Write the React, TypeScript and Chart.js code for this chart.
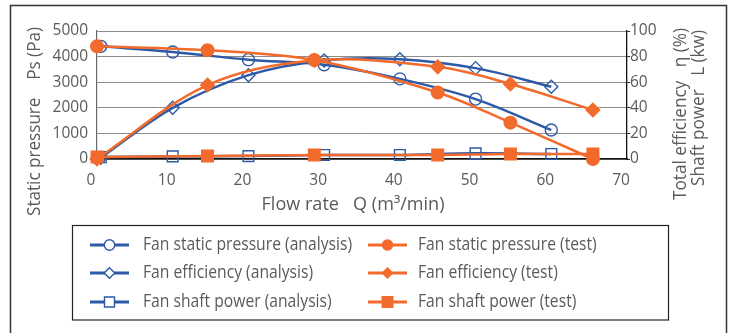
import React, { useEffect, useRef } from 'react';
import { Chart, registerables } from 'chart.js';

Chart.register(...registerables);

const BLUE = '#2c5aa6';
const ORANGE = '#f26a2c';
const TEXT = '#5a5a5a';
const FONT = '"Open Sans", "Noto Sans", sans-serif';

// Data
const analysisFlow = [0.5, 10, 20, 30, 40, 50, 60];
const analysisPressure = [4400, 4180, 3880, 3680, 3130, 2340, 1130];
const analysisEfficiency = [1, 40, 65.5, 77, 78, 71, 56.5];
const analysisPower = [1.5, 2, 2.3, 3.1, 3.1, 4.4, 3.9];

const testFlow = [0, 14.6, 28.7, 45, 54.6, 65.5];
const testPressure = [4400, 4250, 3870, 2600, 1420, 0];
const testEfficiency = [0, 57.8, 77, 72, 58.6, 38.3];
const testPower = [1.5, 2.3, 3.1, 3.1, 3.9, 3.9];

const xTickValues = [0, 10, 20, 30, 40, 50, 60, 70];
const leftTickValues = [0, 1000, 2000, 3000, 4000, 5000];
const rightTickValues = [0, 20, 40, 60, 80, 100];

const seriesLabels = [
  'Fan static pressure (analysis)',
  'Fan efficiency (analysis)',
  'Fan shaft power (analysis)',
  'Fan static pressure (test)',
  'Fan efficiency (test)',
  'Fan shaft power (test)',
];

const xTitle = 'Flow rate   Q (m\u00b3/min)';
const leftTitle = 'Static pressure    Ps (Pa)';
const rightTitle1 = 'Total efficiency   \u03b7 (%)';
const rightTitle2 = 'Shaft power   L (kw)';

function pts(xs: number[], ys: number[]) {
  return xs.map((x, i) => ({ x, y: ys[i] }));
}

function drawMarker(
  ctx: CanvasRenderingContext2D,
  style: string,
  x: number,
  y: number,
  r: number,
  color: string,
  filled: boolean
) {
  ctx.save();
  ctx.beginPath();
  if (style === 'circle') {
    ctx.arc(x, y, r, 0, Math.PI * 2);
  } else if (style === 'rectRot') {
    ctx.moveTo(x - r, y);
    ctx.lineTo(x, y - r);
    ctx.lineTo(x + r, y);
    ctx.lineTo(x, y + r);
    ctx.closePath();
  } else {
    ctx.rect(x - r, y - r, 2 * r, 2 * r);
  }
  if (filled) {
    ctx.fillStyle = color;
    ctx.fill();
  } else {
    ctx.fillStyle = '#ffffff';
    ctx.fill();
    ctx.lineWidth = 1.4;
    ctx.strokeStyle = color;
    ctx.stroke();
  }
  ctx.restore();
}

function fitScale(ctx: CanvasRenderingContext2D, text: string, target: number) {
  const w = ctx.measureText(text).width;
  if (!w) return 1;
  return Math.max(0.75, Math.min(1.15, target / w));
}

const decorPlugin = {
  id: 'decor',
  afterDraw(chart: any) {
    const ctx: CanvasRenderingContext2D = chart.ctx;
    ctx.save();
    // outer frame
    ctx.strokeStyle = '#333333';
    ctx.lineWidth = 1.5;
    ctx.strokeRect(10.5, 5.5, 716, 340);

    // titles
    ctx.fillStyle = TEXT;
    ctx.textBaseline = 'middle';

    ctx.font = `18px ${FONT}`;
    ctx.save();
    ctx.translate(353, 205);
    ctx.scale(fitScale(ctx, xTitle, 183), 1);
    ctx.textAlign = 'center';
    ctx.fillText(xTitle, 0, 0);
    ctx.restore();

    ctx.font = `18px ${FONT}`;
    ctx.save();
    ctx.translate(35, 27);
    ctx.rotate(-Math.PI / 2);
    ctx.scale(fitScale(ctx, leftTitle, 189), 1);
    ctx.textAlign = 'right';
    ctx.fillText(leftTitle, 0, 0);
    ctx.restore();

    ctx.font = `17.5px ${FONT}`;
    const sr = fitScale(ctx, rightTitle1, 172);
    ctx.save();
    ctx.translate(681, 28);
    ctx.rotate(-Math.PI / 2);
    ctx.scale(sr, 1);
    ctx.textAlign = 'right';
    ctx.fillText(rightTitle1, 0, 0);
    ctx.restore();

    ctx.save();
    ctx.translate(699, 30);
    ctx.rotate(-Math.PI / 2);
    ctx.scale(sr, 1);
    ctx.textAlign = 'right';
    ctx.fillText(rightTitle2, 0, 0);
    ctx.restore();

    // legend
    ctx.strokeStyle = '#222222';
    ctx.lineWidth = 1.2;
    ctx.strokeRect(72.5, 225.5, 596, 94.5);
    const styles = ['circle', 'rectRot', 'rect'];
    const rowY = [245, 273, 302];
    const cols = [
      { x0: 90, x1: 129, tx: 143, color: BLUE, filled: false, rs: [5.2, 5.3, 5] },
      { x0: 368, x1: 407, tx: 418, color: ORANGE, filled: true, rs: [5.8, 6, 6] },
    ];
    ctx.font = `17.5px ${FONT}`;
    ctx.textAlign = 'left';
    ctx.textBaseline = 'middle';
    const sx = fitScale(ctx, seriesLabels[0], 209);
    for (let c = 0; c < 2; c++) {
      for (let r = 0; r < 3; r++) {
        const col = cols[c];
        const y = rowY[r];
        ctx.strokeStyle = col.color;
        ctx.lineWidth = 2.8;
        ctx.beginPath();
        ctx.moveTo(col.x0, y);
        ctx.lineTo(col.x1, y);
        ctx.stroke();
        const mx = (col.x0 + col.x1) / 2;
        drawMarker(ctx, styles[r], mx, y, col.rs[r], col.color, col.filled);
        ctx.save();
        ctx.translate(col.tx, y);
        ctx.scale(sx, 1);
        ctx.fillStyle = TEXT;
        ctx.fillText(seriesLabels[c * 3 + r], 0, 0);
        ctx.restore();
      }
    }
    ctx.restore();
  },
};

export default function App() {
  const ref = useRef<HTMLCanvasElement>(null);

  useEffect(() => {
    document.body.style.margin = '0';
    const canvas = ref.current!;
    const common = { tension: 0.35, borderWidth: 2.5, clip: false as any, pointBorderWidth: 1.4 };
    const plain = (v: any) => String(v);
    const chart = new Chart(canvas, {
      type: 'line',
      data: {
        datasets: [
          {
            ...common,
            label: seriesLabels[3],
            data: pts(testFlow, testPressure),
            yAxisID: 'y',
            borderColor: ORANGE,
            backgroundColor: ORANGE,
            pointBackgroundColor: ORANGE,
            pointBorderColor: ORANGE,
            pointStyle: 'circle',
            pointRadius: 6.3,
          },
          {
            ...common,
            label: seriesLabels[4],
            data: pts(testFlow, testEfficiency),
            yAxisID: 'y1',
            borderColor: ORANGE,
            backgroundColor: ORANGE,
            pointBackgroundColor: ORANGE,
            pointBorderColor: ORANGE,
            pointStyle: 'rectRot',
            pointRadius: 6.8,
          },
          {
            ...common,
            label: seriesLabels[5],
            data: pts(testFlow, testPower),
            yAxisID: 'y1',
            borderColor: ORANGE,
            backgroundColor: ORANGE,
            pointBackgroundColor: ORANGE,
            pointBorderColor: ORANGE,
            pointStyle: 'rect',
            pointRadius: 8.2,
          },
          {
            ...common,
            label: seriesLabels[0],
            data: pts(analysisFlow, analysisPressure),
            yAxisID: 'y',
            borderColor: BLUE,
            backgroundColor: '#ffffff',
            pointBackgroundColor: 'rgba(255,255,255,0)',
            pointBorderColor: BLUE,
            pointStyle: 'circle',
            pointRadius: 6,
          },
          {
            ...common,
            label: seriesLabels[1],
            data: pts(analysisFlow, analysisEfficiency),
            yAxisID: 'y1',
            borderColor: BLUE,
            backgroundColor: '#ffffff',
            pointBackgroundColor: 'rgba(255,255,255,0)',
            pointBorderColor: BLUE,
            pointStyle: 'rectRot',
            pointRadius: 6.5,
          },
          {
            ...common,
            label: seriesLabels[2],
            data: pts(analysisFlow, analysisPower),
            yAxisID: 'y1',
            borderColor: BLUE,
            backgroundColor: '#ffffff',
            pointBackgroundColor: 'rgba(255,255,255,0)',
            pointBorderColor: BLUE,
            pointStyle: 'rect',
            pointRadius: 7.6,
          },
        ],
      },
      options: {
        responsive: false,
        animation: false,
        devicePixelRatio: 1,
        layout: { padding: { top: 31, left: 0, right: 0, bottom: 0 } },
        plugins: { legend: { display: false }, tooltip: { enabled: false } },
        scales: {
          x: {
            type: 'linear',
            min: 0,
            max: 70,
            afterBuildTicks: (s: any) => {
              s.ticks = xTickValues.map((v) => ({ value: v }));
            },
            afterFit: (s: any) => {
              s.height = 174;
            },
            grid: { display: false, drawTicks: false },
            border: { display: true, color: '#111111', width: 1.5 },
            ticks: {
              color: TEXT,
              font: { family: FONT, size: 15.5 },
              padding: 12,
              labelOffset: -6,
              maxRotation: 0,
              callback: plain,
            },
          },
          y: {
            type: 'linear',
            position: 'left',
            min: 0,
            max: 5000,
            afterBuildTicks: (s: any) => {
              s.ticks = leftTickValues.map((v) => ({ value: v }));
            },
            afterFit: (s: any) => {
              s.width = 97;
            },
            grid: { color: '#8c8c8c', lineWidth: 1, drawTicks: false },
            border: { display: true, color: '#6a6a6a', width: 1.2 },
            ticks: {
              color: TEXT,
              font: { family: FONT, size: 15.5 },
              padding: 9,
              callback: plain,
            },
          },
          y1: {
            type: 'linear',
            position: 'right',
            min: 0,
            max: 100,
            afterBuildTicks: (s: any) => {
              s.ticks = rightTickValues.map((v) => ({ value: v }));
            },
            afterFit: (s: any) => {
              s.width = 103;
            },
            grid: { drawOnChartArea: false, drawTicks: true, tickLength: 3, color: '#222222' },
            border: { display: true, color: '#111111', width: 1.3 },
            ticks: {
              color: TEXT,
              font: { family: FONT, size: 15.5 },
              padding: 0,
              callback: plain,
            },
          },
        },
      },
      plugins: [decorPlugin],
    } as any);
    return () => chart.destroy();
  }, []);

  return <canvas ref={ref} width={730} height={333} style={{ display: 'block', width: 730, height: 333 }} />;
}
